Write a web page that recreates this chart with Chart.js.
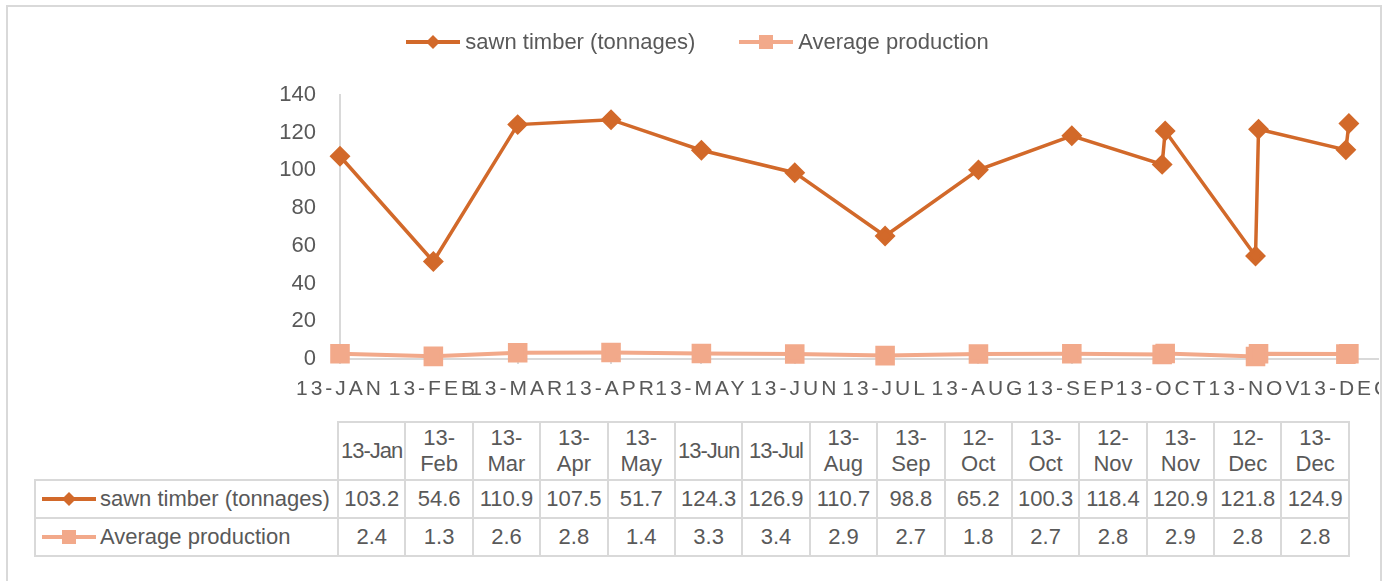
<!DOCTYPE html>
<html>
<head>
<meta charset="utf-8">
<script src="https://cdn.jsdelivr.net/npm/chart.js@4.4.1/dist/chart.umd.min.js"></script>
<style>
    body { margin: 0; background: #fff; font-family: 'Liberation Sans', Arial, sans-serif; color: #595959; }
    #frame { position: absolute; left: 6px; top: 5px; width: 1372px; height: 590px; border: 2px solid #d9d9d9; }
    #wrap { position: absolute; left: 0; top: 0; width: 1379px; height: 420px; overflow: hidden; }
    #legend { position: absolute; left: 0; top: 29px; width: 1395px; display: flex; justify-content: center; font-size: 22px; line-height: 26px; }
    #legend .item { display: flex; align-items: center; margin: 0 22px; }
    #legend svg { margin-right: 5px; }
    #dataTable { position: absolute; left: 34px; top: 421px; border-collapse: collapse; font-size: 22px; table-layout: fixed; }
    #dataTable td { border: 2px solid #d9d9d9; padding: 0; text-align: center; width: 65.4px; height: 36px; }
    #dataTable tr.head td { height: 56px; line-height: 26px; }
    #dataTable td.single { white-space: nowrap; letter-spacing: -1px; }
    #dataTable td.corner { border-top: none; border-left: none; width: 302px; }
    #dataTable td.name { text-align: left; white-space: nowrap; }
    #dataTable td.name svg { vertical-align: middle; margin: 0 4px 3px 6px; }
</style>
</head>
<body>
<div id="frame"></div>
<div id="wrap"><canvas id="timberChart" width="1394" height="420"></canvas></div>
<div id="legend"></div>
<table id="dataTable"></table>
<script>
// Categorías de la tabla de datos
const tableLabels = ['13-Jan', '13-Feb', '13-Mar', '13-Apr', '13-May', '13-Jun', '13-Jul', '13-Aug',
    '13-Sep', '12-Oct', '13-Oct', '12-Nov', '13-Nov', '12-Dec', '13-Dec'];
const sawnTimber = [103.2, 54.6, 110.9, 107.5, 51.7, 124.3, 126.9, 110.7, 98.8, 65.2, 100.3, 118.4, 120.9, 121.8, 124.9];
const avgProduction = [2.4, 1.3, 2.6, 2.8, 1.4, 3.3, 3.4, 2.9, 2.7, 1.8, 2.7, 2.8, 2.9, 2.8, 2.8];
// Día del año (2013) en que Excel colocó cada columna en el eje de fechas
const plotDay = [273, 304, 334, 0, 31, 59, 90, 120, 151, 181, 212, 243, 274, 305, 335];

// Eje X: marcas mensuales
const axisDays = [0, 31, 59, 90, 120, 151, 181, 212, 243, 273, 304, 334];
const axisLabels = ['13-JAN', '13-FEB', '13-MAR', '13-APR', '13-MAY', '13-JUN', '13-JUL', '13-AUG',
    '13-SEP', '13-OCT', '13-NOV', '13-DEC'];
const yTicks = [0, 20, 40, 60, 80, 100, 120, 140];

const seriesNames = ['sawn timber (tonnages)', 'Average production'];
const darkOrange = '#D2692A';
const salmon = '#F2A98A';

// puntos ordenados por fecha
const order = plotDay.map((d, i) => i).sort((a, b) => plotDay[a] - plotDay[b]);
const toPoints = (values) => order.map(i => ({ x: plotDay[i], y: values[i] }));

// claves de leyenda (línea + marcador)
function keySvg(color, shape, w) {
    const mark = shape === 'diamond'
        ? `<polygon points="${w / 2 - 7},8 ${w / 2},1 ${w / 2 + 7},8 ${w / 2},15" fill="${color}"/>`
        : `<rect x="${w / 2 - 7}" y="1" width="14" height="14" fill="${color}"/>`;
    return `<svg width="${w}" height="16"><line x1="0" y1="8" x2="${w}" y2="8" stroke="${color}" stroke-width="4"/>${mark}</svg>`;
}
const keys = [keySvg(darkOrange, 'diamond', 54), keySvg(salmon, 'square', 54)];

document.getElementById('legend').innerHTML = seriesNames
    .map((name, i) => `<div class="item">${keys[i]}<span>${name}</span></div>`).join('');

// tabla de datos
const oneLine = ['13-Jan', '13-Jun', '13-Jul'];
let html = '<tr class="head"><td class="corner"></td>' + tableLabels.map(l => oneLine.includes(l)
    ? `<td class="single">${l}</td>`
    : `<td>${l.replace('-', '-<br>')}</td>`).join('') + '</tr>';
[sawnTimber, avgProduction].forEach((vals, s) => {
    html += `<tr><td class="name">${keys[s]}${seriesNames[s]}</td>` +
        vals.map(v => `<td>${v.toFixed(1)}</td>`).join('') + '</tr>';
});
document.getElementById('dataTable').innerHTML = html;

// espaciado de letras en las etiquetas del eje X
const spacedLabels = {
    id: 'spacedLabels',
    beforeDraw(chart) {
        const xs = chart.scales.x;
        if (xs._spaced) return;
        const orig = xs.drawLabels;
        xs.drawLabels = function(area) {
            const prev = this.ctx.letterSpacing;
            this.ctx.letterSpacing = '3px';
            orig.call(this, area);
            this.ctx.letterSpacing = prev;
        };
        xs._spaced = true;
    }
};

new Chart(document.getElementById('timberChart'), {
    type: 'line',
    data: {
        datasets: [
            {
                label: seriesNames[0],
                data: toPoints(sawnTimber),
                borderColor: darkOrange,
                backgroundColor: darkOrange,
                borderWidth: 3.5,
                pointStyle: 'rectRot',
                pointRadius: 8,
                pointHoverRadius: 8,
                tension: 0,
                clip: false
            },
            {
                label: seriesNames[1],
                data: toPoints(avgProduction),
                borderColor: salmon,
                backgroundColor: salmon,
                borderWidth: 4,
                pointStyle: 'rect',
                pointRadius: 11,
                pointHoverRadius: 11,
                tension: 0,
                clip: false
            }
        ]
    },
    options: {
        responsive: false,
        animation: false,
        layout: { padding: { top: 95, left: 0, right: 1, bottom: 11 } },
        plugins: { legend: { display: false }, tooltip: { enabled: false } },
        scales: {
            x: {
                type: 'linear',
                min: 0,
                max: 345,
                afterBuildTicks: (scale) => { scale.ticks = axisDays.map(v => ({ value: v })); },
                afterFit: (scale) => { scale.height = 50; scale.paddingLeft = 0; scale.paddingRight = 0; },
                grid: { display: true, drawOnChartArea: false, drawTicks: true, tickLength: 5, color: '#d9d9d9', lineWidth: 2 },
                border: { display: true, color: '#d9d9d9', width: 2 },
                ticks: {
                    autoSkip: false,
                    maxRotation: 0,
                    padding: 13,
                    color: '#595959',
                    font: { family: "'Liberation Sans Narrow', 'Liberation Sans', sans-serif", size: 21 },
                    callback: (value, index) => axisLabels[index]
                }
            },
            y: {
                min: 0,
                max: 140,
                afterBuildTicks: (scale) => { scale.ticks = yTicks.map(v => ({ value: v })); },
                afterFit: (scale) => { scale.width = 340; },
                grid: { display: false },
                border: { display: true, color: '#d9d9d9', width: 2 },
                ticks: {
                    padding: 16,
                    color: '#595959',
                    font: { family: "'Liberation Sans', sans-serif", size: 22 }
                }
            }
        }
    },
    plugins: [spacedLabels]
});
</script>
</body>
</html>
